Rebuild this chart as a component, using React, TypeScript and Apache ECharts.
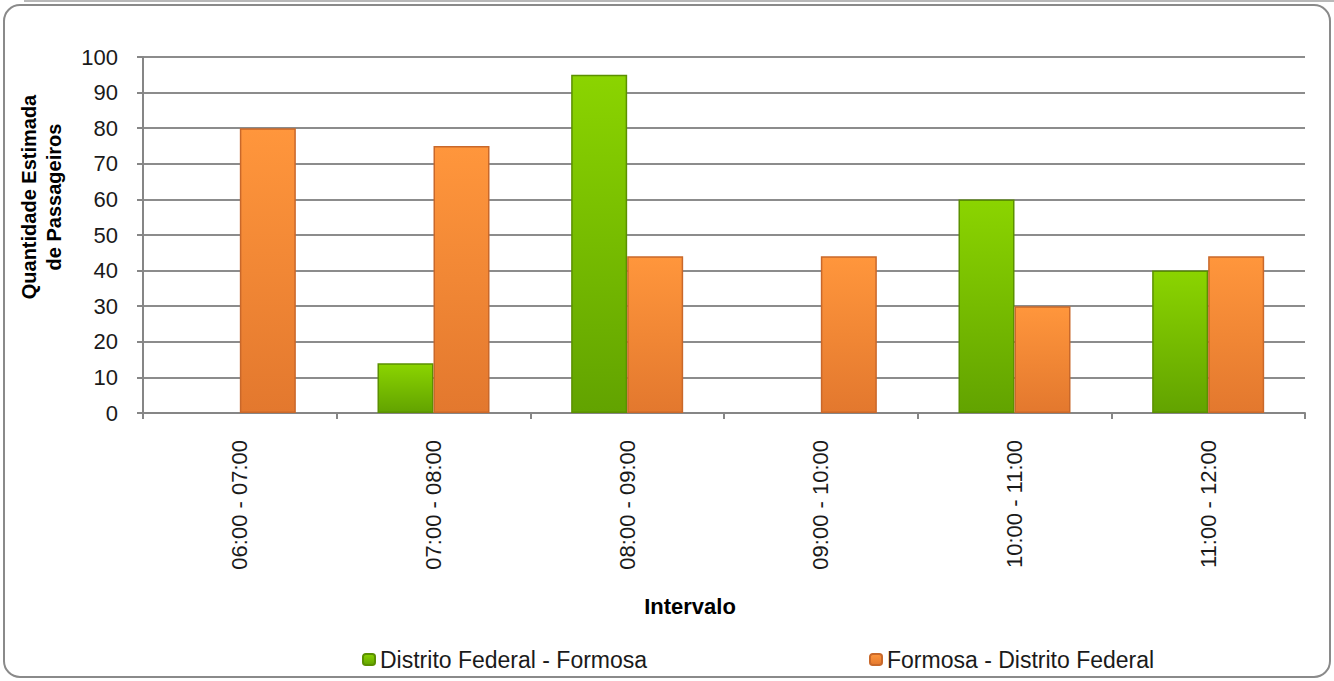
import React, { useEffect, useRef } from "react";
import * as echarts from "echarts";

const categories = ["06:00 - 07:00", "07:00 - 08:00", "08:00 - 09:00", "09:00 - 10:00", "10:00 - 11:00", "11:00 - 12:00"];
const seriesNames = ["Distrito Federal - Formosa", "Formosa - Distrito Federal"];
const dfFormosa = [0, 14, 95, 0, 60, 40];
const formosaDf = [80, 75, 44, 44, 30, 44];
const yTicks = { min: 0, max: 100, interval: 10 };

const FONT = "'Liberation Sans', Arial, sans-serif";

const hideZero = (arr: number[]) => arr.map((v) => (v === 0 ? null : v));

export default function App() {
  const ref = useRef<HTMLDivElement>(null);
  useEffect(() => {
    document.body.style.margin = "0";
    const chart = echarts.init(ref.current!, null, { renderer: "svg" });
    const greenFill = new echarts.graphic.LinearGradient(0, 0, 0, 1, [
      { offset: 0, color: "#8bd400" },
      { offset: 1, color: "#62a300" },
    ]);
    const orangeFill = new echarts.graphic.LinearGradient(0, 0, 0, 1, [
      { offset: 0, color: "#ff963c" },
      { offset: 1, color: "#e3782e" },
    ]);
    chart.setOption({
      animation: false,
      backgroundColor: "#ffffff",
      grid: { left: 143, right: 29, top: 57, bottom: 268, containLabel: false },
      xAxis: {
        type: "category",
        data: categories,
        axisLine: { lineStyle: { color: "#868686", width: 2 } },
        axisTick: { show: true, length: 6, lineStyle: { color: "#868686", width: 2 } },
        axisLabel: { rotate: 90, margin: 27, color: "#1a1a1a", fontSize: 22, fontFamily: FONT },
      },
      yAxis: {
        type: "value",
        min: yTicks.min,
        max: yTicks.max,
        interval: yTicks.interval,
        axisLine: { show: true, lineStyle: { color: "#868686", width: 2 } },
        axisTick: { show: true, length: 6, lineStyle: { color: "#868686", width: 2 } },
        axisLabel: { margin: 25, color: "#1a1a1a", fontSize: 22, fontFamily: FONT },
        splitLine: { show: true, lineStyle: { color: "#8c8c8c", width: 2 } },
      },
      legend: [
        {
          data: [seriesNames[0]],
          left: 357,
          top: 643,
          itemWidth: 12,
          itemHeight: 11,
          itemGap: 5,
          textStyle: { color: "#1a1a1a", fontSize: 23, fontFamily: FONT },
        },
        {
          data: [seriesNames[1]],
          left: 864,
          top: 643,
          itemWidth: 12,
          itemHeight: 11,
          itemGap: 5,
          textStyle: { color: "#1a1a1a", fontSize: 23, fontFamily: FONT },
        },
      ],
      graphic: [
        {
          type: "rect",
          shape: { x: 4, y: 5, width: 1326, height: 672, r: 16 },
          style: { fill: "none", stroke: "#8a8a8a", lineWidth: 2 },
          silent: true,
        },
        {
          type: "line",
          shape: { x1: 24, y1: 1, x2: 1334, y2: 1 },
          style: { stroke: "#a0a0a0", lineWidth: 1.5 },
          silent: true,
        },
        {
          type: "text",
          x: 41,
          y: 197,
          rotation: Math.PI / 2,
          style: {
            text: "Quantidade Estimada\nde Passageiros",
            fontSize: 20,
            fontWeight: "bold",
            fontFamily: FONT,
            fill: "#000000",
            align: "center",
            verticalAlign: "middle",
            lineHeight: 25,
          },
        },
        {
          type: "text",
          x: 690,
          y: 606,
          style: {
            text: "Intervalo",
            fontSize: 22,
            fontWeight: "bold",
            fontFamily: FONT,
            fill: "#000000",
            align: "center",
            verticalAlign: "middle",
          },
        },
      ],
      series: [
        {
          name: seriesNames[0],
          type: "bar",
          data: hideZero(dfFormosa),
          barWidth: 56,
          barGap: "0%",
          itemStyle: { color: greenFill, borderColor: "#5b9000", borderWidth: 1.5 },
        },
        {
          name: seriesNames[1],
          type: "bar",
          data: hideZero(formosaDf),
          barWidth: 56,
          barGap: "0%",
          itemStyle: { color: orangeFill, borderColor: "#c9682a", borderWidth: 1.5 },
        },
      ],
    });
    return () => chart.dispose();
  }, []);
  return <div ref={ref} style={{ position: "absolute", left: 0, top: 0, width: 1334, height: 681 }} />;
}
